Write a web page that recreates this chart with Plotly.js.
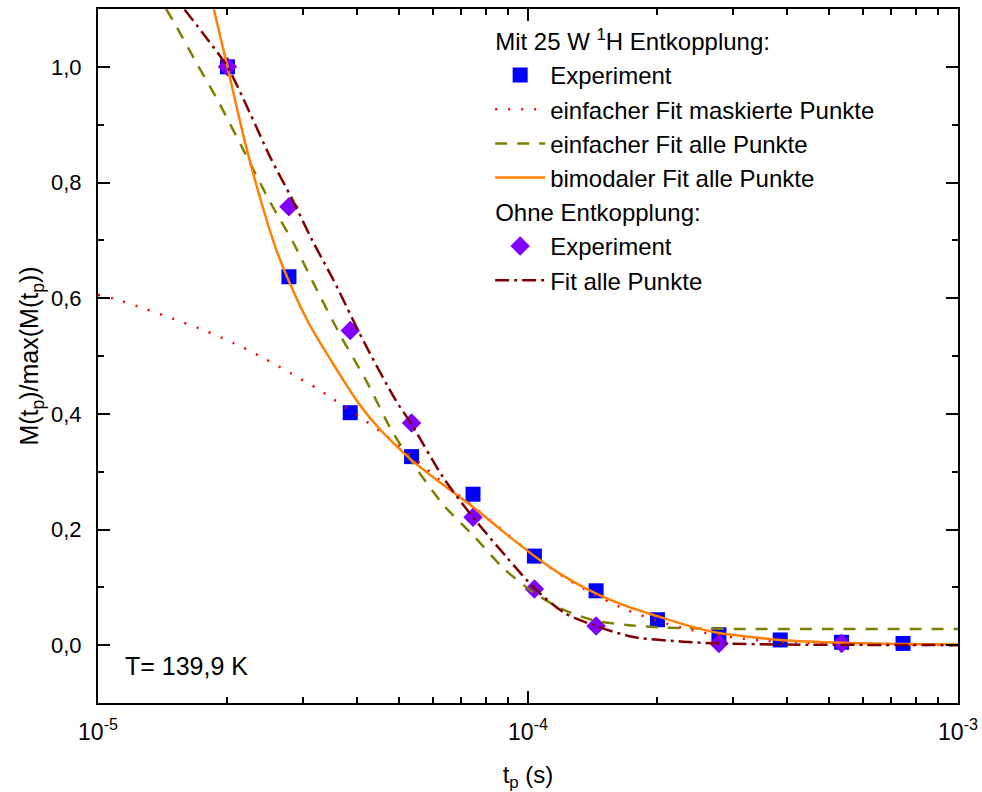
<!DOCTYPE html>
<html>
<head>
<meta charset="utf-8">
<script src="https://cdn.plot.ly/plotly-3.0.1.min.js"></script>
<style>html,body{margin:0;padding:0;background:#fff;}#chart{width:982px;height:792px;}</style>
</head>
<body>
<div id="chart"></div>
<script>
// Mit 25 W 1H Entkopplung: experiment
const squareX = [2.0e-5, 2.78e-5, 3.86e-5, 5.36e-5, 7.45e-5, 1.035e-4, 1.44e-4, 2.0e-4, 2.78e-4, 3.86e-4, 5.36e-4, 7.45e-4];
const squareY = [1.0, 0.637, 0.402, 0.326, 0.261, 0.154, 0.094, 0.044, 0.018, 0.009, 0.005, 0.003];
// Ohne Entkopplung: experiment
const diamondX = [2.0e-5, 2.78e-5, 3.86e-5, 5.36e-5, 7.45e-5, 1.035e-4, 1.44e-4, 2.78e-4, 5.36e-4];
const diamondY = [1.0, 0.758, 0.544, 0.384, 0.221, 0.097, 0.033, 0.003, 0.003];
// einfacher Fit maskierte Punkte
const maskFitX = [1.0e-5, 1.09e-5, 1.28e-5, 1.5e-5, 1.77e-5, 2.07e-5, 2.42e-5, 2.81e-5, 3.26e-5, 3.5e-5, 4.04e-5, 4.66e-5, 5.36e-5, 6.2e-5, 7.45e-5, 8.8e-5, 1.04e-4, 1.23e-4, 1.44e-4, 1.7e-4, 2.0e-4, 2.4e-4, 2.8e-4, 3.5e-4, 4.5e-4, 6.0e-4, 1.0e-3];
const maskFitY = [0.606, 0.599, 0.582, 0.564, 0.544, 0.522, 0.497, 0.470, 0.442, 0.427, 0.396, 0.363, 0.327, 0.287, 0.240, 0.196, 0.153, 0.115, 0.086, 0.061, 0.042, 0.026, 0.017, 0.008, 0.004, 0.001, 0.000];
// einfacher Fit alle Punkte
const singleFitX = [1.44e-5, 1.5e-5, 1.7e-5, 1.905e-5, 2.2e-5, 2.51e-5, 2.85e-5, 3.17e-5, 3.66e-5, 4.2e-5, 4.83e-5, 5.53e-5, 6.4e-5, 7.45e-5, 8.8e-5, 1.04e-4, 1.22e-4, 1.44e-4, 1.7e-4, 2.0e-4, 2.5e-4, 3.2e-4, 5.0e-4, 1.0e-3];
const singleFitY = [1.10, 1.078, 1.005, 0.940, 0.850, 0.767, 0.695, 0.626, 0.536, 0.458, 0.370, 0.303, 0.240, 0.190, 0.132, 0.089, 0.060, 0.042, 0.035, 0.031, 0.029, 0.028, 0.028, 0.028];
// bimodaler Fit alle Punkte
const biFitX = [1.86e-5, 2.0e-5, 2.2e-5, 2.4e-5, 2.6e-5, 2.77e-5, 3.09e-5, 3.56e-5, 4.04e-5, 4.54e-5, 4.92e-5, 5.36e-5, 6.2e-5, 7.45e-5, 8.8e-5, 1.04e-4, 1.22e-4, 1.44e-4, 1.7e-4, 2.0e-4, 2.4e-4, 2.78e-4, 3.3e-4, 3.87e-4, 5.4e-4, 7.5e-4, 1.0e-3];
const biFitY = [1.099, 1.0, 0.868, 0.765, 0.683, 0.632, 0.557, 0.481, 0.418, 0.372, 0.346, 0.320, 0.283, 0.239, 0.195, 0.153, 0.118, 0.089, 0.067, 0.050, 0.032, 0.021, 0.014, 0.009, 0.004, 0.002, 0.001];
// Fit alle Punkte (ohne Entkopplung)
const noDecFitX = [1.59e-5, 1.8e-5, 2.0e-5, 2.25e-5, 2.51e-5, 2.82e-5, 3.15e-5, 3.53e-5, 4.15e-5, 4.92e-5, 5.36e-5, 6.35e-5, 7.45e-5, 8.9e-5, 1.04e-4, 1.22e-4, 1.44e-4, 1.76e-4, 2.3e-4, 2.78e-4, 4.0e-4, 6.0e-4, 1.0e-3];
const noDecFitY = [1.099, 1.047, 1.0, 0.922, 0.845, 0.773, 0.700, 0.631, 0.525, 0.424, 0.382, 0.290, 0.221, 0.153, 0.097, 0.055, 0.033, 0.014, 0.006, 0.003, 0.001, 0.0005, 0.0];

const xTickVals = [1e-5, 1e-4, 1e-3];
const xTickText = ['10<sup>-5</sup>', '10<sup>-4</sup>', '10<sup>-3</sup>'];
const xMinorVals = [2e-5, 3e-5, 4e-5, 5e-5, 6e-5, 7e-5, 8e-5, 9e-5, 2e-4, 3e-4, 4e-4, 5e-4, 6e-4, 7e-4, 8e-4, 9e-4];
const yTickVals = [0.0, 0.2, 0.4, 0.6, 0.8, 1.0];
const yTickText = ['0,0', '0,2', '0,4', '0,6', '0,8', '1,0'];
const yMinorVals = [-0.1, 0.1, 0.3, 0.5, 0.7, 0.9];

const FONT = 'Liberation Sans, Arial, sans-serif';
const lineShape = {shape: 'spline', smoothing: 0.8};

const traces = [
  {x: squareX, y: squareY, type: 'scatter', mode: 'markers', name: 'Experiment',
   marker: {symbol: 'square', size: 15, color: '#0000FF'},
   legendgroup: 'g1', legendrank: 1,
   legendgrouptitle: {text: 'Mit 25 W <sup>1</sup>H Entkopplung:', font: {size: 24, family: FONT, color: '#000'}}},
  {x: diamondX, y: diamondY, type: 'scatter', mode: 'markers', name: 'Experiment',
   marker: {symbol: 'diamond', size: 15, color: '#7F00FF'},
   legendgroup: 'g2', legendrank: 5,
   legendgrouptitle: {text: 'Ohne Entkopplung:', font: {size: 24, family: FONT, color: '#000'}}},
  {x: maskFitX, y: maskFitY, type: 'scatter', mode: 'lines', name: 'einfacher Fit maskierte Punkte',
   line: Object.assign({color: '#FF0000', width: 2.5, dash: '2px,11px'}, lineShape),
   legendgroup: 'g1', legendrank: 2},
  {x: singleFitX, y: singleFitY, type: 'scatter', mode: 'lines', name: 'einfacher Fit alle Punkte',
   line: Object.assign({color: '#808000', width: 2.5, dash: '12px,10px'}, lineShape),
   legendgroup: 'g1', legendrank: 3},
  {x: biFitX, y: biFitY, type: 'scatter', mode: 'lines', name: 'bimodaler Fit alle Punkte',
   line: Object.assign({color: '#FF8000', width: 2.5}, lineShape),
   legendgroup: 'g1', legendrank: 4},
  {x: noDecFitX, y: noDecFitY, type: 'scatter', mode: 'lines', name: 'Fit alle Punkte',
   line: Object.assign({color: '#800000', width: 2.5, dash: '14px,5px,3px,5px'}, lineShape),
   legendgroup: 'g2', legendrank: 6}
];

const layout = {
  width: 982, height: 792,
  margin: {l: 98, r: 24, t: 9, b: 89},
  paper_bgcolor: '#fff', plot_bgcolor: '#fff',
  font: {family: FONT, color: '#000'},
  showlegend: true,
  legend: {x: 0.456, y: 0.986, xanchor: 'left', yanchor: 'top', bgcolor: 'rgba(0,0,0,0)',
           font: {size: 24, family: FONT, color: '#000'}, traceorder: 'grouped', tracegroupgap: 0,
           itemwidth: 50},
  xaxis: {type: 'log', range: [-5, -3], showgrid: false, zeroline: false,
          showline: true, linewidth: 2, linecolor: '#000', mirror: 'ticks',
          ticks: 'inside', ticklen: 12, tickwidth: 2, tickcolor: '#000',
          tickmode: 'array', tickvals: xTickVals, ticktext: xTickText,
          tickfont: {size: 23, family: FONT, color: '#000'}, ticklabelstandoff: 7,
          minor: {ticks: 'inside', ticklen: 6, tickwidth: 2, tickcolor: '#000', tickvals: xMinorVals, showgrid: false},
          title: {text: 't<sub>p</sub> (s)', font: {size: 24, family: FONT, color: '#000'}, standoff: 23},
          automargin: false},
  yaxis: {range: [-0.1, 1.1], showgrid: false, zeroline: false,
          showline: true, linewidth: 2, linecolor: '#000', mirror: 'ticks',
          ticks: 'inside', ticklen: 12, tickwidth: 2, tickcolor: '#000',
          tickmode: 'array', tickvals: yTickVals, ticktext: yTickText,
          tickfont: {size: 22, family: FONT, color: '#000'}, ticklabelstandoff: 10,
          minor: {ticks: 'inside', ticklen: 6, tickwidth: 2, tickcolor: '#000', tickvals: yMinorVals, showgrid: false},
          title: {text: 'M(t<sub>p</sub>)/max(M(t<sub>p</sub>))', font: {size: 25, family: FONT, color: '#000'}, standoff: 5},
          automargin: false},
  annotations: [
    {xref: 'paper', yref: 'paper', x: 0.029, y: 0.053, xanchor: 'left', yanchor: 'middle',
     text: 'T= 139,9 K', showarrow: false, font: {size: 25, family: FONT, color: '#000'}}
  ]
};

Plotly.newPlot('chart', traces, layout, {displayModeBar: false, staticPlot: true});
</script>
</body>
</html>
